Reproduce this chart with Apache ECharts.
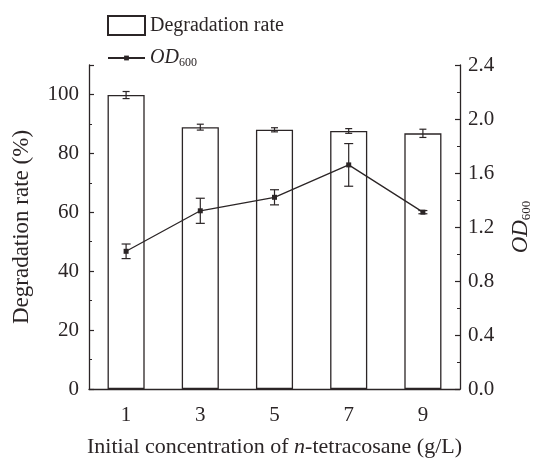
<!DOCTYPE html>
<html>
<head>
<meta charset="utf-8">
<script src="https://cdn.jsdelivr.net/npm/echarts@6/dist/echarts.min.js"></script>
<style>
  html, body { margin: 0; padding: 0; background: #fff; }
  #chart { width: 537px; height: 459px; }
</style>
</head>
<body>
<div id="chart"></div>
<script>
// data
const categories = ["1", "3", "5", "7", "9"]
const degradation = [99.8, 88.9, 88.0, 87.6, 86.8]
const degradationErr = [1.2, 1.0, 0.7, 0.8, 1.4]
const od600 = [1.02, 1.32, 1.42, 1.66, 1.31]
const od600Err = [0.054, 0.093, 0.056, 0.158, 0.012]

const ink = "#2b2526"
const font = "'Liberation Serif', 'Times New Roman', serif"

const myChart = echarts.init(document.getElementById("chart"))

// error bar drawing (vertical line + caps)
const errorBar = (vals, errs, capW) => (params, api) => {
  const i = api.value(0)
  const top = api.coord([i, vals[i] + errs[i]])
  const bot = api.coord([i, vals[i] - errs[i]])
  const st = { stroke: ink, lineWidth: 1.2 }
  return {
    type: "group",
    children: [
      { type: "line", shape: { x1: top[0], y1: top[1], x2: bot[0], y2: bot[1] }, style: st },
      { type: "line", shape: { x1: top[0] - capW / 2, y1: top[1], x2: top[0] + capW / 2, y2: top[1] }, style: st },
      { type: "line", shape: { x1: bot[0] - capW / 2, y1: bot[1], x2: bot[0] + capW / 2, y2: bot[1] }, style: st },
    ],
  }
}

const axisCommon = {
  axisLine: { show: true, lineStyle: { color: ink, width: 1.3 } },
  axisTick: { show: true, inside: true, length: 5, lineStyle: { color: ink, width: 1.2 } },
  minorTick: { show: true, splitNumber: 2, length: 3, lineStyle: { color: ink, width: 1 } },
  splitLine: { show: false },
  axisLabel: { color: ink, fontFamily: font, fontSize: 21 },
}

const odRich = (big, small) => ({
  i: { fontStyle: "italic", fontSize: big, fontFamily: font, color: ink, lineHeight: big + 2 },
  s: { fontSize: small, fontFamily: font, color: ink, verticalAlign: "bottom", lineHeight: small + 2 },
})

const option = {
  animation: false,
  backgroundColor: "#fff",
  textStyle: { fontFamily: font, color: ink },
  legend: [
    {
      data: [{ name: "Degradation rate", icon: "rect" }],
      left: 107,
      top: 15,
      padding: 0,
      itemWidth: 37,
      itemHeight: 19,
      textStyle: { fontFamily: font, fontSize: 20, color: ink },
      selectedMode: false,
    },
    {
      data: [{ name: "OD600" }],
      left: 107,
      top: 48,
      padding: 0,
      itemWidth: 37,
      itemHeight: 6,
      formatter: "{i|OD}{s|600}",
      textStyle: { fontFamily: font, color: ink, rich: odRich(20, 12) },
      selectedMode: false,
    },
  ],
  grid: { left: 89, right: 77, top: 65, bottom: 70, containLabel: false, outerBoundsMode: "none" },
  xAxis: {
    type: "category",
    data: categories,
    name: "{a|Initial concentration of }{i|n}{a|-tetracosane (g/L)}",
    nameLocation: "middle",
    nameGap: 47,
    nameTextStyle: {
      rich: {
        a: { fontFamily: font, fontSize: 22, color: ink },
        i: { fontFamily: font, fontSize: 22, color: ink, fontStyle: "italic" },
      },
    },
    axisLine: { lineStyle: { color: ink, width: 1.3 } },
    axisTick: { inside: true, alignWithLabel: true, length: 5, lineStyle: { color: ink, width: 1.2 } },
    axisLabel: { color: ink, fontFamily: font, fontSize: 21, margin: 16 },
  },
  yAxis: [
    {
      type: "value",
      min: 0,
      max: 110,
      interval: 20,
      name: "Degradation rate (%)",
      nameLocation: "middle",
      nameGap: 56,
      nameTextStyle: { fontFamily: font, fontSize: 23, color: ink },
      ...axisCommon,
      axisLabel: { ...axisCommon.axisLabel, margin: 10, showMaxLabel: false },
    },
    {
      type: "value",
      min: 0,
      max: 2.4,
      interval: 0.4,
      position: "right",
      name: "{i|OD}{s|600}",
      nameLocation: "middle",
      nameGap: 48,
      nameTextStyle: { rich: odRich(23, 13) },
      ...axisCommon,
      axisLabel: { ...axisCommon.axisLabel, margin: 8, formatter: (v) => v.toFixed(1) },
    },
  ],
  series: [
    {
      name: "Degradation rate",
      type: "bar",
      data: degradation,
      barWidth: "50%",
      itemStyle: { color: "#fff", borderColor: ink, borderWidth: 1.3 },
    },
    {
      type: "custom",
      name: "degErr",
      data: categories.map((c, i) => [i]),
      renderItem: errorBar(degradation, degradationErr, 7),
      z: 5,
    },
    {
      name: "OD600",
      type: "line",
      yAxisIndex: 1,
      data: od600,
      symbol: "rect",
      symbolSize: 5,
      itemStyle: { color: ink },
      lineStyle: { color: ink, width: 1.3 },
      z: 6,
    },
    {
      type: "custom",
      name: "odErr",
      yAxisIndex: 1,
      data: categories.map((c, i) => [i]),
      renderItem: errorBar(od600, od600Err, 9),
      z: 6,
    },
  ],
}

myChart.setOption(option)
</script>
</body>
</html>
